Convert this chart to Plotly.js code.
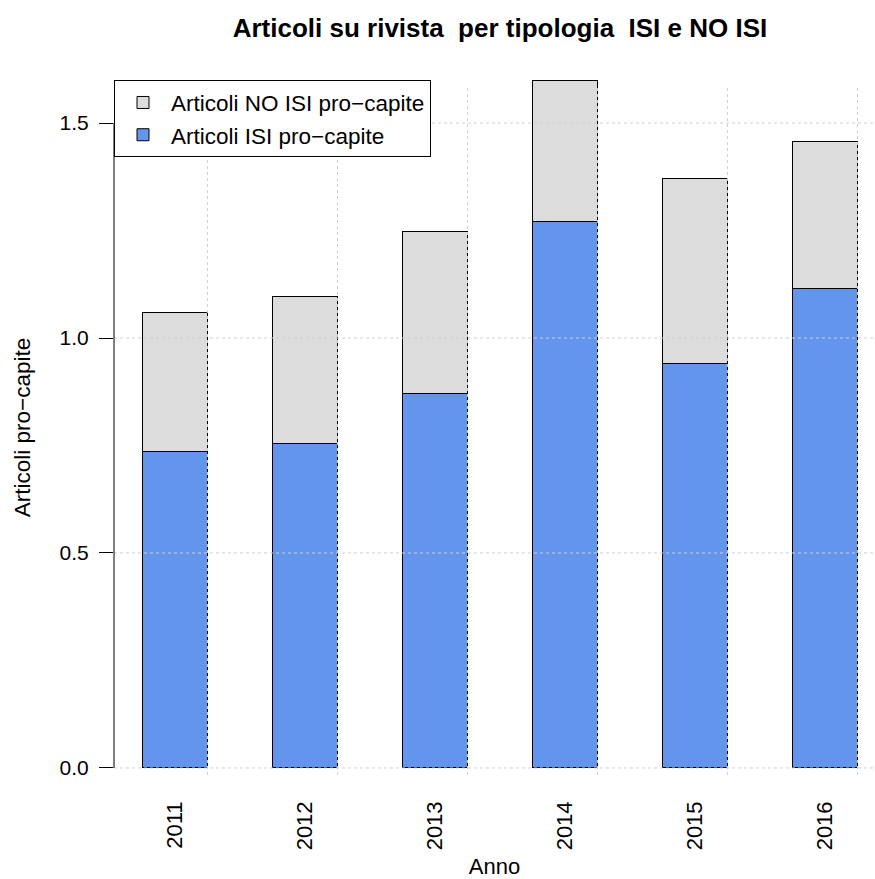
<!DOCTYPE html>
<html>
<head>
<meta charset="utf-8">
<script src="https://cdn.plot.ly/plotly-3.0.1.min.js"></script>
<style>html,body{margin:0;padding:0;background:#fff;}#chart{width:875px;height:879px;}</style>
</head>
<body>
<div id="chart"></div>
<script>
const years = ['2011', '2012', '2013', '2014', '2015', '2016'];
const isiValues = [0.737, 0.755, 0.870, 1.270, 0.940, 1.114];
const noIsiValues = [0.322, 0.341, 0.377, 0.328, 0.430, 0.343];
const yTicks = [0, 0.5, 1.0, 1.5];
const yTickText = ['0.0', '0.5', '1.0', '1.5'];

const FONT = 'Liberation Sans, Arial, Helvetica, sans-serif';
const idx = years.map((_, i) => i);
const barWidth = 0.5;

const traces = [
  {
    type: 'bar', name: 'Articoli ISI pro\u2212capite', x: idx, y: isiValues,
    width: barWidth, marker: {color: '#6495ED', line: {color: '#000', width: 1}},
    hoverinfo: 'y'
  },
  {
    type: 'bar', name: 'Articoli NO ISI pro\u2212capite', x: idx, y: noIsiValues,
    width: barWidth, marker: {color: '#DCDCDC', line: {color: '#000', width: 1}},
    hoverinfo: 'y'
  }
];

const gridStyle = {color: '#cfcfcf', width: 1, dash: 'dot'};
const regionTop = 0.9926; // top of the R plotting region (as paper fraction)
const shapes = [];
yTicks.forEach(v => shapes.push({type: 'line', layer: 'above', xref: 'paper', yref: 'y', x0: 0, x1: 1, y0: v, y1: v, line: gridStyle}));
idx.forEach(i => shapes.push({type: 'line', layer: 'above', xref: 'x', yref: 'paper', x0: i + barWidth / 2, x1: i + barWidth / 2, y0: 0, y1: regionTop, line: gridStyle}));
shapes.push({type: 'line', layer: 'above', xref: 'paper', yref: 'y', x0: 0, x1: 0, y0: yTicks[0], y1: yTicks[yTicks.length - 1], line: {color: '#000', width: 1}});

const layout = {
  width: 875, height: 879,
  paper_bgcolor: '#fff', plot_bgcolor: '#fff',
  font: {family: FONT, size: 21, color: '#000'},
  margin: {l: 114, r: 0, t: 80, b: 104},
  barmode: 'stack',
  title: {text: 'Articoli su rivista \u00a0per tipologia \u00a0ISI e NO ISI', font: {family: FONT, size: 26, color: '#000', weight: 'bold'},
          xref: 'container', x: 0.5714, xanchor: 'center', yref: 'container', y: 0.968, yanchor: 'middle'},
  xaxis: {
    range: [-0.469, 5.385], tickvals: idx, ticktext: years, tickangle: -90,
    showgrid: false, zeroline: false, showline: false, ticks: '',
    ticklabelstandoff: 21, tickfont: {size: 22},
    title: {text: 'Anno', font: {size: 22}, standoff: 12}
  },
  yaxis: {
    range: [-0.0163, 1.600], tickvals: yTicks, ticktext: yTickText,
    showgrid: false, zeroline: false, showline: false,
    ticks: 'outside', ticklen: 14, tickcolor: '#000', tickwidth: 1,
    tickfont: {size: 21}, ticklabelstandoff: 6,
    title: {text: 'Articoli pro\u2212capite', font: {size: 22.5}, standoff: 22}
  },
  legend: {
    x: 0, xanchor: 'left', y: 0.9995, yanchor: 'top',
    bgcolor: '#fff', bordercolor: '#000', borderwidth: 1,
    traceorder: 'reversed', font: {size: 22.5}, itemwidth: 46,
    tracegroupgap: 0
  },
  shapes: shapes,
  showlegend: true
};

Plotly.newPlot('chart', traces, layout, {displayModeBar: false, staticPlot: true});
</script>
</body>
</html>
